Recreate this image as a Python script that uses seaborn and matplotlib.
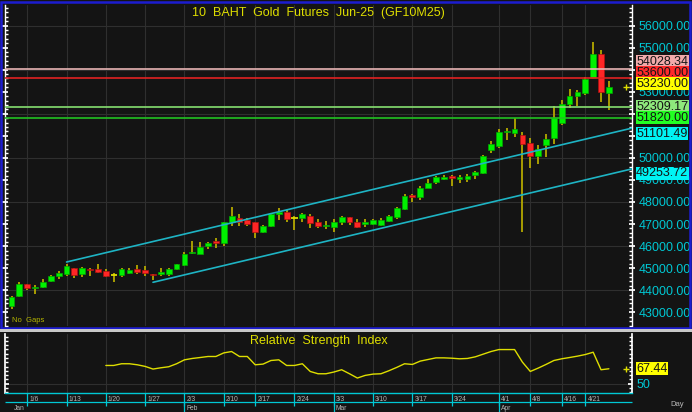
import numpy as np
import pandas as pd
import matplotlib
matplotlib.use("Agg")
import matplotlib.pyplot as plt
from matplotlib.patches import Rectangle
import seaborn as sns

# daily OHLC, trading days 2 Jan 2025 .. 24 Apr 2025
opens = [43300, 43740, 44270, 44090, 44150, 44420, 44645, 44750, 44995, 44735,
         44975, 44950, 44870, 44690, 44690, 44780, 44965, 44915, 44750, 44725,
         44725, 44965, 45145, 45710, 45655, 46020, 46220, 46130, 47080, 47260,
         47170, 47080, 46640, 46900, 47440, 47560, 47290, 47290, 47380, 47080,
         46900, 46880, 47080, 47305, 47080, 47015, 46990, 46945, 47150, 47305,
         47670, 48305, 48215, 48650, 48895, 49030, 49180, 49055, 49030, 49210,
         49330, 50355, 50550, 51160, 51140, 51035, 50690, 50085, 50585, 50915,
         51565, 52440, 52805, 52955, 53620, 54710, 52955]
highs = [43750, 44360, 44280, 44240, 44510, 44705, 44860, 45190, 45010, 45040,
         45020, 45175, 44975, 44780, 45020, 45020, 45145, 45110, 44750, 44995,
         45020, 45205, 45745, 46245, 46200, 46170, 46380, 47105, 47760, 47455,
         47260, 47090, 46955, 47490, 47715, 47635, 47380, 47490, 47440, 47230,
         47150, 47230, 47380, 47335, 47215, 47215, 47230, 47275, 47425, 47760,
         48350, 48365, 48725, 49030, 49190, 49210, 49225, 49225, 49270, 49405,
         50130, 50780, 51310, 51340, 51820, 51160, 50890, 50585, 51095, 52350,
         52610, 53120, 53075, 53665, 55265, 54890, 53485]
lows = [43150, 43710, 44010, 43815, 44115, 44390, 44510, 44660, 44570, 44600,
        44645, 44780, 44600, 44390, 44615, 44750, 44750, 44660, 44450, 44660,
        44630, 44905, 45110, 45630, 45630, 45870, 45900, 46020, 46925, 46925,
        46925, 46380, 46580, 46865, 47200, 47105, 46730, 47105, 46835, 46835,
        46760, 46655, 46955, 46955, 46810, 46880, 46935, 46890, 47095, 47215,
        47635, 47985, 48090, 48620, 48800, 48995, 48740, 48875, 48920, 49040,
        49285, 50235, 50460, 50810, 50960, 46655, 49555, 49710, 50040, 50615,
        51490, 52245, 52350, 52850, 53590, 52545, 52170]
closes = [43680, 44270, 44115, 44150, 44390, 44660, 44780, 45100, 44705, 44995,
          44905, 44825, 44630, 44690, 44965, 44905, 44840, 44795, 44705, 44840,
          44965, 45175, 45655, 45735, 45975, 46155, 46130, 47080, 47350, 47105,
          47015, 46655, 46925, 47440, 47535, 47245, 47290, 47455, 47060, 46925,
          46955, 47105, 47335, 47080, 46880, 47080, 47185, 47170, 47365, 47715,
          48285, 48240, 48650, 48875, 49120, 49145, 49100, 49120, 49190, 49345,
          50100, 50630, 51160, 51220, 51295, 50645, 50085, 50405, 50855, 51820,
          52430, 52805, 52975, 53575, 54710, 53000, 53230]

# RSI, from day 12 to the last day
rsi_first_day = 12
rsi_values = [71.3, 71.3, 73.3, 73.3, 72.1, 70.2, 67.1, 68.6, 69.8, 73.3,
              77.9, 79.5, 80.6, 81.8, 81.8, 86.0, 87.6, 81.8, 81.8, 72.1,
              72.9, 77.1, 77.9, 71.3, 71.3, 73.3, 64.3, 61.6, 61.6, 63.6,
              66.3, 61.6, 56.6, 59.7, 61.2, 61.6, 65.1, 69.0, 73.3, 72.5,
              76.4, 78.3, 80.2, 80.2, 79.8, 79.1, 79.5, 81.4, 84.5, 87.6,
              89.9, 89.9, 89.9, 75.2, 64.3, 68.2, 72.5, 77.1, 79.1, 80.6,
              82.2, 84.1, 86.8, 66.3, 67.44]

week_days = [2, 7, 12, 17, 22, 27, 31, 36, 41, 46, 51, 56, 62, 66, 70, 73]
week_labels = ['1/6', '1/13', '1/20', '1/27', '2/3', '2/10', '2/17', '2/24',
               '3/3', '3/10', '3/17', '3/24', '4/1', '4/8', '4/16', '4/21']
month_days = [0, 22, 41, 62]
month_labels = ['Jan', 'Feb', 'Mar', 'Apr']

price_ticks = list(range(43000, 57000, 1000))
# these tick labels sit fully under the level boxes on the reference
hidden_ticks = [51000, 52000, 54000]

# horizontal levels
level_values = [54028.34, 53600.00, 52309.17, 51820.00]
last_price = 53230.00
rsi_last = 67.44

# channel anchors (day, price)
upper_days = [7, 76]
upper_prices = [45280.0, 51101.49]
lower_days = [18, 76]
lower_prices = [44360.0, 49253.72]

df = pd.DataFrame({'open': opens, 'high': highs, 'low': lows, 'close': closes})
df['day'] = np.arange(len(df))

# colours
BG = '#141414'
GRID = '#2f2f2f'
CYAN = '#00c8d4'
YELLOW = '#dede00'
WICK = '#b4a800'
GREEN = '#00f000'
RED = '#ff2626'
TREND = '#1eb4c4'

sns.set_theme(style='dark')
plt.rcParams['font.family'] = ['Liberation Sans', 'DejaVu Sans']

W, H = 692, 412
def box(l, t, r, b):
    return [l / W, 1 - b / H, (r - l) / W, (b - t) / H]

fig = plt.figure(figsize=(6.92, 4.12), dpi=100, facecolor=BG)
ax = fig.add_axes(box(5, 5, 632, 326))
ax2 = fig.add_axes(box(5, 334, 632, 393), sharex=ax)

xmin, xmax = -0.83, 78.94

# ---- price panel
ax.set_facecolor(BG)
ax.set_xlim(xmin, xmax)
ax.set_ylim(42379, 56930)
for p in price_ticks[1::2]:
    ax.axhline(p, color=GRID, lw=0.8, zorder=0)
ax.set_xticks(week_days)
ax.grid(axis='x', color=GRID, lw=0.8)
ax.grid(axis='y', visible=False)

up = df.close >= df.open
doji = (df.close - df.open).abs() < 5
ax.vlines(df.day, df.low, df.high, color=WICK, lw=1.3, zorder=2)
body = (df.close - df.open).abs()
ax.bar(df.day[up & ~doji], body[up & ~doji], bottom=df.open[up & ~doji], width=0.74,
       color=GREEN, edgecolor='#00a800', lw=0.5, zorder=3)
ax.bar(df.day[~up], body[~up], bottom=df.close[~up], width=0.74,
       color=RED, edgecolor='#b01010', lw=0.5, zorder=3)
ax.hlines(df.close[doji], df.day[doji] - 0.4, df.day[doji] + 0.4, color=YELLOW, lw=1.3, zorder=3)

# channel lines
for days, prices in [(upper_days, upper_prices), (lower_days, lower_prices)]:
    k, b = np.polyfit(days, prices, 1)
    xs = np.array([days[0], xmax])
    ax.plot(xs, k * xs + b, color=TREND, lw=1.2, zorder=4)

level_colors = ['#e8b4b4', '#e02222', '#86e070', '#22c022']
for v, c in zip(level_values, level_colors):
    ax.axhline(v, color=c, lw=1.2, zorder=4)

ax.yaxis.tick_right()
ax.set_yticks(price_ticks)
ax.yaxis.set_major_formatter(lambda v, pos: '' if round(v) in hidden_ticks else f'{v:.2f}')
ax.set_yticks(np.arange(42400, 57000, 200), minor=True)
ax.tick_params(axis='y', which='both', left=True, right=True, labelleft=False,
               labelright=True, colors='white', labelcolor=CYAN, labelsize=9,
               direction='in', pad=3)
ax.tick_params(axis='y', which='major', length=4, direction='inout')
ax.tick_params(axis='y', which='minor', length=2.5)
ax.tick_params(axis='x', bottom=False, labelbottom=False)
for s in ['top', 'bottom']:
    ax.spines[s].set_visible(False)
for s in ['left', 'right']:
    ax.spines[s].set_color('white')
    ax.spines[s].set_linewidth(1)

ax.text(0.5, 0.975, '10  BAHT  Gold  Futures  Jun-25  (GF10M25)', transform=ax.transAxes,
        ha='center', va='center', color=YELLOW, fontsize=9)
ax.text(0.011, 0.006, 'No  Gaps', transform=ax.transAxes, ha='left', va='bottom',
        color='#b4b400', fontsize=5.5)

label_specs = [
    (level_values[0], '#f2aaaa', 5.0),
    (level_values[1], '#ff2a2a', 4.0),
    (last_price, '#ffff00', 2.0),
    (level_values[2], '#8ee87c', 0.0),
    (level_values[3], '#22ff22', 0.0),
    (upper_prices[1], '#00f4f4', 0.0),
    (lower_prices[1], '#00f4f4', 0.8),
]
for v, fc, dy in label_specs:
    ax.annotate(f'{v:.2f}', xy=(1, v), xycoords=('axes fraction', 'data'),
                xytext=(3, dy), textcoords='offset points', ha='left', va='center',
                fontsize=9, color='#141414', zorder=6, annotation_clip=False,
                bbox=dict(boxstyle='square,pad=0.05', fc=fc, ec='none'))
ax.plot([xmax - 0.8], [last_price], marker='+', color=YELLOW, ms=5, mew=1, zorder=5,
        clip_on=False)

# ---- RSI panel
rsi_df = pd.DataFrame({'day': np.arange(rsi_first_day, rsi_first_day + len(rsi_values)),
                       'rsi': rsi_values})
ax2.set_facecolor(BG)
sns.lineplot(data=rsi_df, x='day', y='rsi', ax=ax2, color=YELLOW, lw=1.0)
ax2.set_ylim(39.1, 108.1)
ax2.set_xlim(xmin, xmax)
ax2.axhline(50, color=GRID, lw=0.8, zorder=0)
for d in week_days:
    ax2.axvline(d, color=GRID, lw=0.8, zorder=0)
ax2.grid(False)
ax2.set_xlabel('')
ax2.set_ylabel('')
ax2.yaxis.tick_right()
ax2.set_yticks([50])
ax2.set_yticks(np.arange(40, 106, 5), minor=True)
ax2.tick_params(axis='y', which='both', left=True, right=True, labelleft=False,
                labelright=True, colors='white', labelcolor=CYAN, labelsize=9,
                direction='in', pad=3)
ax2.tick_params(axis='y', which='major', length=3)
ax2.tick_params(axis='y', which='minor', length=2)
ax2.set_xticks(week_days)
ax2.set_xticklabels([])
ax2.tick_params(axis='x', bottom=True, colors=CYAN, length=9, width=0.9, direction='out')
ax2.spines['top'].set_visible(False)
ax2.spines['right'].set_color('white')
ax2.spines['left'].set_color('white')
ax2.spines['bottom'].set_color(CYAN)
ax2.spines['bottom'].set_linewidth(1)

ax2.text(0.5, 0.88, 'Relative  Strength  Index', transform=ax2.transAxes, ha='center',
         va='center', color=YELLOW, fontsize=9)
ax2.annotate(f'{rsi_last:.2f}', xy=(1, rsi_last), xycoords=('axes fraction', 'data'),
             xytext=(3, 0), textcoords='offset points', ha='left', va='center',
             fontsize=9, color='#141414', annotation_clip=False,
             bbox=dict(boxstyle='square,pad=0.05', fc='#ffff00', ec='none'))
ax2.plot([xmax - 0.8], [rsi_last], marker='+', color=YELLOW, ms=5, mew=1, clip_on=False)

# date / month rows below the RSI panel
trans = ax2.get_xaxis_transform()
for d, lab in zip(week_days, week_labels):
    ax2.annotate(lab, xy=(d, 0), xycoords=trans, xytext=(1.5, -2.5),
                 textcoords='offset points', ha='left', va='top', color='#b8b8b8',
                 fontsize=4.8, annotation_clip=False)
ax2.hlines(-0.16, xmin, xmax, transform=trans, color=CYAN, lw=0.9, clip_on=False)
ax2.vlines(month_days[1:], -0.16, -0.33, transform=trans, color=CYAN, lw=0.9, clip_on=False)
for d, lab in zip(month_days, month_labels):
    ax2.annotate(lab, xy=(d, -0.16), xycoords=trans, xytext=(1.5, -1.5),
                 textcoords='offset points', ha='left', va='top', color='#b8b8b8',
                 fontsize=4.8, annotation_clip=False)
fig.text(670 / W, 1 - 405 / H, 'Day', ha='left', va='center', color='#b8b8b8', fontsize=5.5)

# frames
fig.patches.append(Rectangle((1 / W, 1 - 328 / H), 689 / W, 326 / H, transform=fig.transFigure,
                             fill=False, ec='#1c1cd0', lw=1.8))
fig.patches.append(Rectangle((0, 1 - 332 / H), 1, 3 / H, transform=fig.transFigure,
                             fc='#c8c8c8', ec='none'))

fig.savefig('out.png', dpi=100, facecolor=BG)
